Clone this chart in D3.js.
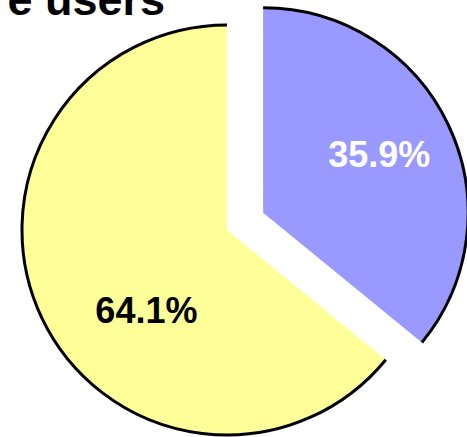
<!DOCTYPE html>
<html>
<head>
<meta charset="utf-8">
<script src="https://cdn.jsdelivr.net/npm/d3@7"></script>
<style>
  html, body { margin: 0; padding: 0; background: #fff; }
  svg { display: block; }
</style>
</head>
<body>
<svg id="chart" width="467" height="437"></svg>
<script>
// Data
const categories = ["Other", "Users"];
const values = [35.9, 64.1];
const labels = ["35.9%", "64.1%"];
const colors = ["#9999FF", "#FFFF99"];
const labelColors = ["#FFFFFF", "#000000"];
const explode = [40, 0];
const titleText = "e users";

const svg = d3.select("#chart");
const cx = 227, cy = 230, R = 205;

const pie = d3.pie().sort(null).value(d => d.value).startAngle(0).endAngle(2 * Math.PI);
const data = values.map((v, i) => ({ value: v, i }));
const arcs = pie(data);

const arc = d3.arc().innerRadius(0).outerRadius(R);

const g = svg.append("g").attr("transform", `translate(${cx},${cy})`);

arcs.forEach(a => {
  const i = a.data.i;
  const mid = (a.startAngle + a.endAngle) / 2;
  const dx = Math.sin(mid) * explode[i];
  const dy = -Math.cos(mid) * explode[i];
  const sg = g.append("g").attr("transform", `translate(${dx},${dy})`);
  sg.append("path").attr("d", arc(a)).attr("fill", colors[i]).attr("stroke", "none");
  const p = d3.path();
  p.arc(0, 0, R, a.startAngle - Math.PI / 2, a.endAngle - Math.PI / 2);
  sg.append("path").attr("d", p.toString()).attr("fill", "none")
    .attr("stroke", "#000").attr("stroke-width", 3);
});

// Labels
const labelPos = [
  { angle: 63.2, r: 130 },
  { angle: 225, r: 114 }
];
arcs.forEach(a => {
  const i = a.data.i;
  const mid = (a.startAngle + a.endAngle) / 2;
  const dx = Math.sin(mid) * explode[i];
  const dy = -Math.cos(mid) * explode[i];
  const ang = labelPos[i].angle * Math.PI / 180;
  const x = dx + Math.sin(ang) * labelPos[i].r;
  const y = dy - Math.cos(ang) * labelPos[i].r;
  g.append("text")
    .attr("x", x).attr("y", y)
    .attr("text-anchor", "middle")
    .attr("dominant-baseline", "central")
    .attr("font-family", "Liberation Sans, Arial, sans-serif")
    .attr("font-weight", "bold")
    .attr("font-size", 36)
    .attr("fill", labelColors[i])
    .text(labels[i]);
});

// Title (partially cut off in the reference)
svg.append("text")
  .attr("x", 165).attr("y", 15)
  .attr("text-anchor", "end")
  .attr("font-family", "Liberation Sans, Arial, sans-serif")
  .attr("font-weight", "bold")
  .attr("font-size", 45)
  .attr("fill", "#000")
  .text(titleText);
</script>
</body>
</html>
